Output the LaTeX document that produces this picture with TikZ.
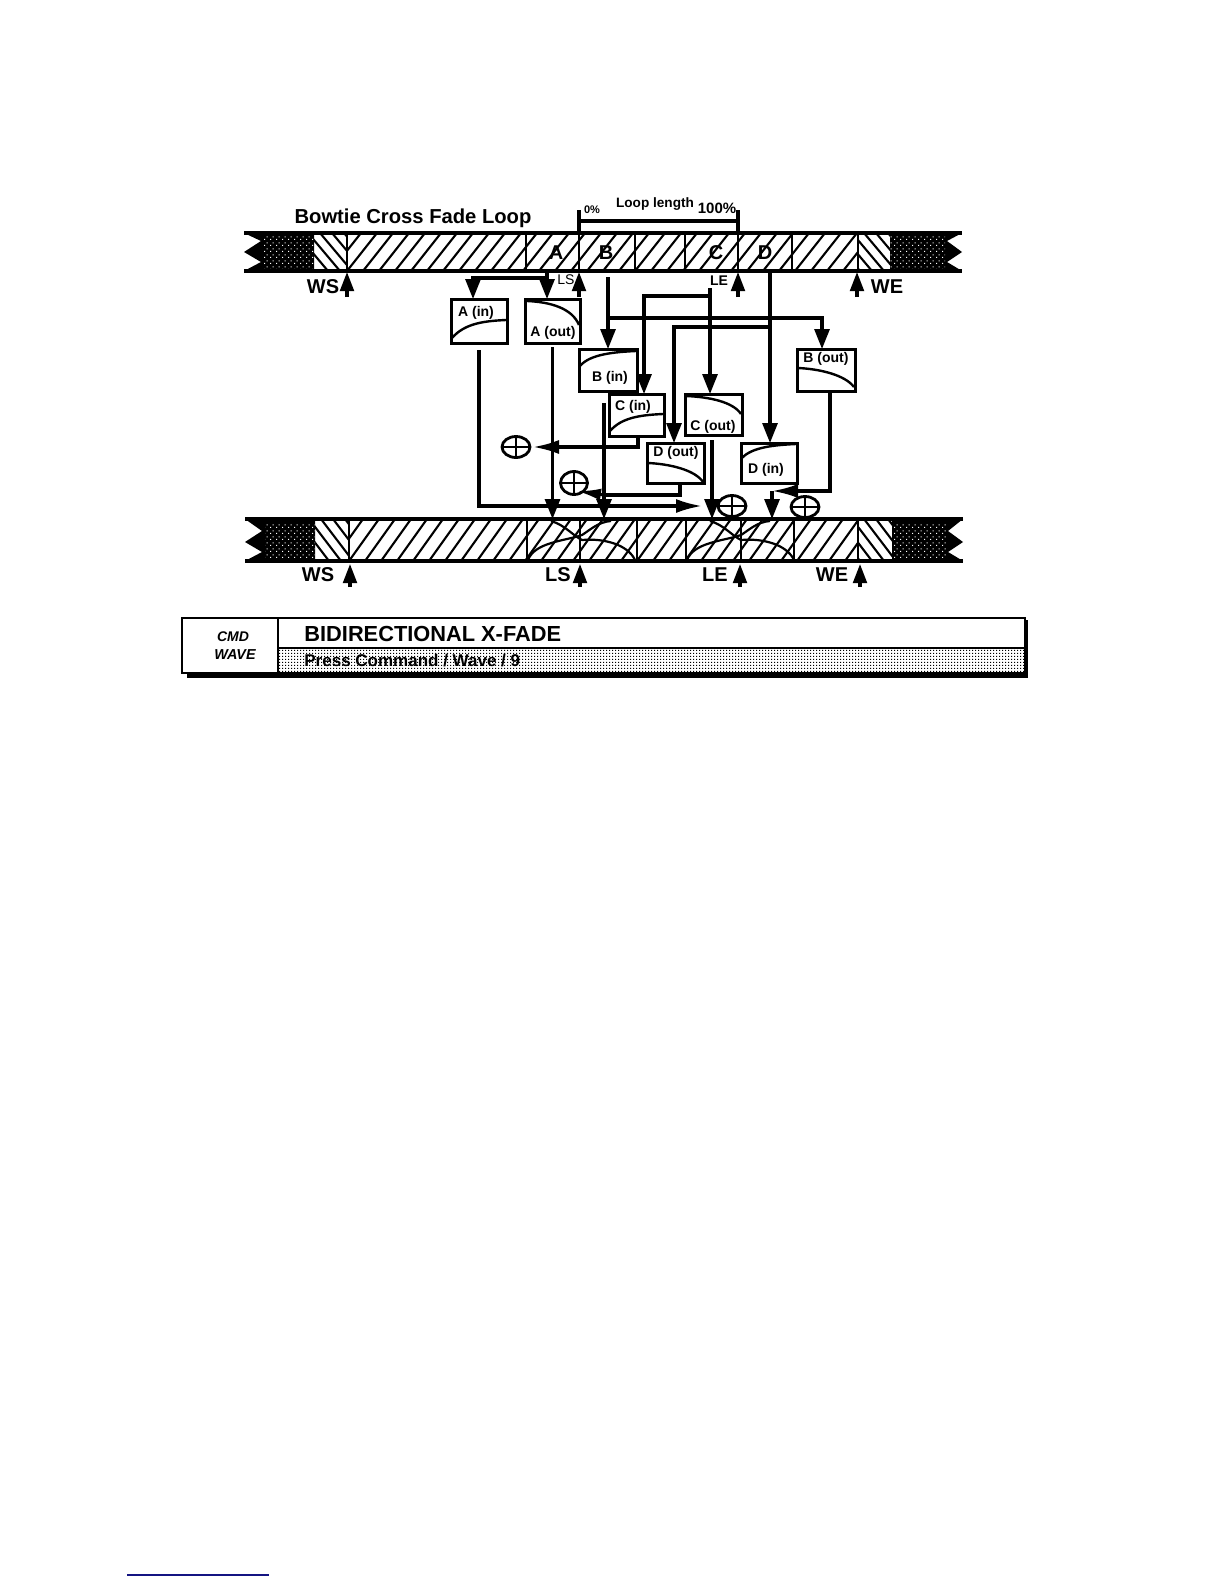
\documentclass[tikz,border=0pt]{standalone}
\usepackage{fontspec}
\setmainfont{Liberation Sans}
\usetikzlibrary{arrows.meta,calc,patterns,shapes.geometric}
\pgfdeclarepatternformonly{finedots}{\pgfpointorigin}{\pgfqpoint{1.5pt}{1.5pt}}{\pgfqpoint{1.5pt}{1.5pt}}{%
  \pgfpathrectangle{\pgfpointorigin}{\pgfqpoint{0.72pt}{0.72pt}}\pgfusepath{fill}}
\pgfdeclarepatternformonly{sparsedots}{\pgfpointorigin}{\pgfqpoint{3pt}{3pt}}{\pgfqpoint{3pt}{3pt}}{%
  \pgfpathrectangle{\pgfpointorigin}{\pgfqpoint{0.6pt}{0.6pt}}%
  \pgfpathrectangle{\pgfqpoint{1.5pt}{1.5pt}}{\pgfqpoint{0.6pt}{0.6pt}}\pgfusepath{fill}}
\tikzset{
  conn/.style={line width=1.55pt,draw=black},
  down/.style={conn,-{Triangle[length=10pt,width=7.5pt]}},
  upa/.style={conn,-{Triangle[length=9.5pt,width=6.8pt]}},
  tear/.style={conn,-{Latex[length=13pt,width=7pt]}},
  fadebox/.style={draw,line width=1.5pt,fill=white,inner sep=0pt,outer sep=0pt},
  fadecurve/.style={line width=1.2pt},
  boxlabel/.style={font=\bfseries\fontsize{7}{8}\selectfont,inner sep=0pt},
  marklabel/.style={font=\bfseries\fontsize{10}{12}\selectfont,inner sep=0pt},
  letter/.style={font=\bfseries\fontsize{10}{12}\selectfont,inner sep=0pt},
  smalllabel/.style={font=\bfseries\fontsize{5.5}{7}\selectfont,inner sep=0pt},
  summer/.style={ellipse,draw,line width=1.4pt,fill=white,inner sep=0pt,outer sep=0pt,
    minimum width=14pt,minimum height=10.5pt,
    path picture={\draw[line width=1.1pt] (path picture bounding box.north)--(path picture bounding box.south)
      (path picture bounding box.west)--(path picture bounding box.east);}},
  hatchline/.style={line width=1.05pt},
  barline/.style={line width=1pt},
  barrule/.style={line width=1.7pt}
}
% #1 top, #2 bottom, #3 left end, #4 dark end, #5 WS, #6 WE, #7 dark start, #8 right end, #9 dividers
\newcommand\wavebar[9]{%
  \begin{scope}
    \clip (#4,#1) rectangle (#5,#2);
    \foreach \d in {-12,0,...,48} {\draw[hatchline] (#4+\d-6,#1)--(#4+\d+26,#2);}
  \end{scope}
  \begin{scope}
    \clip (#6,#1) rectangle (#7,#2);
    \foreach \d in {-24,-12,...,48} {\draw[hatchline] (#6+\d-6,#1)--(#6+\d+26,#2);}
  \end{scope}
  \begin{scope}
    \clip (#5,#1) rectangle (#6,#2);
    \foreach \d in {-48,-32,...,540} {\draw[hatchline] (#5+\d,#2)--(#5+\d+30,#1);}
  \end{scope}
  \path[fill=black] (#3,#1)--(#4,#1)--(#4,#2)--(#3,#2)--(#3+17,#2-9)--(#3,#2-19)--(#3+17,#2-30)--cycle;
  \path[pattern=sparsedots,pattern color=white] (#3+20,#1+3)--(#4,#1+3)--(#4,#2-3)--(#3+20,#2-3)--cycle;
  \path[fill=black] (#8,#1)--(#7,#1)--(#7,#2)--(#8,#2)--(#8-15,#2-9)--(#8,#2-19)--(#8-15,#2-30)--cycle;
  \path[pattern=sparsedots,pattern color=white] (#8-17,#1+3)--(#7,#1+3)--(#7,#2-3)--(#8-17,#2-3)--cycle;
  \foreach \v in {#9} {\draw[barline] (\v,#1)--(\v,#2);}
  \draw[barrule] (#3,#1)--(#8,#1) (#3,#2)--(#8,#2);
}
\begin{document}
\begin{tikzpicture}[x=0.5pt,y=-0.5pt]
\useasboundingbox (0,0) rectangle (1224,1584);
\fill[white] (0,0) rectangle (1224,1584);

% wave bars
\wavebar{233}{271}{244}{314}{347}{858}{890}{962}{347,526,579,635,685,738,792,858}
\wavebar{519}{561}{245}{315}{349}{858}{892}{963}{349,527,580,637,686,741,794,858}

% fade curves in the lower bar
\draw[line width=1.1pt] (528,560) .. controls (535,542) and (565,541) .. (582,535) .. controls (590,530) and (598,522) .. (611,521);
\draw[line width=1.1pt] (551,521) .. controls (565,525) and (572,535) .. (582,540) .. controls (605,538) and (628,545) .. (635,560);
\draw[line width=1.1pt] (687,560) .. controls (694,542) and (724,541) .. (741,535) .. controls (749,530) and (757,522) .. (770,521);
\draw[line width=1.1pt] (710,521) .. controls (724,525) and (731,535) .. (741,540) .. controls (764,538) and (787,545) .. (794,560);

% bracket
\coordinate (brL) at (579,210);
\coordinate (brR) at (738,210);
\coordinate (brLb) at (579,233);
\coordinate (brRb) at (738,233);
\coordinate (brLm) at (579,221);
\coordinate (brRm) at (738,221);
\draw[conn] (brL)--(brLb) (brR)--(brRb) (brLm)--(brRm);

% texts of the upper part
\node[font=\bfseries\fontsize{10.1}{13}\selectfont,inner sep=0pt] (title) at (413,218) {Bowtie Cross Fade Loop};
\node[smalllabel] (zero) at (592,210) {0\%};
\node[font=\bfseries\fontsize{6.8}{8}\selectfont,inner sep=0pt] (looplen) at (655,204) {Loop length};
\node[font=\bfseries\fontsize{7.5}{8}\selectfont,inner sep=0pt] (hundred) at (717,208) {100\%};
\node[letter] (lA) at (556,253) {A};
\node[letter] (lB) at (606,253) {B};
\node[letter] (lC) at (716,253) {C};
\node[letter] (lD) at (765,253) {D};
\node[marklabel] (tWS) at (323,287) {WS};
\node[font=\fontsize{7}{8}\selectfont,inner sep=0pt] (tLS) at (566,280) {LS};
\node[font=\bfseries\fontsize{7}{8}\selectfont,inner sep=0pt] (tLE) at (719,281) {LE};
\node[marklabel] (tWE) at (887,287) {WE};
\node[marklabel] (bWS) at (318,575) {WS};
\node[marklabel] (bLS) at (558,575) {LS};
\node[marklabel] (bLE) at (715,575) {LE};
\node[marklabel] (bWE) at (832,575) {WE};

% marker arrows
\foreach \n/\x/\ya/\yb in {a/347/297/272, b/579/297/272, c/738/297/272, d/857/297/272, e/350/587/564, f/580/587/564, g/740/587/564, h/860/587/564} {
  \coordinate (m\n0) at (\x,\ya);
  \coordinate (m\n1) at (\x,\yb);
  \draw[upa] (m\n0)--(m\n1);
}

% fade boxes
\node[fadebox,minimum width=28pt,minimum height=22pt] (ain) at (479,321) {};
\node[fadebox,minimum width=27.5pt,minimum height=22pt] (aout) at (552.5,321) {};
\node[fadebox,minimum width=29pt,minimum height=21pt] (bin) at (608,370) {};
\node[fadebox,minimum width=29pt,minimum height=21pt] (bout) at (826,370) {};
\node[fadebox,minimum width=27.5pt,minimum height=21pt] (cin) at (636.5,415) {};
\node[fadebox,minimum width=28.5pt,minimum height=20.5pt] (cout) at (713.5,414.5) {};
\node[fadebox,minimum width=28.5pt,minimum height=20pt] (dout) at (675.5,463) {};
\node[fadebox,minimum width=28pt,minimum height=20pt] (din) at (769,463) {};

% fade curves in the boxes
\draw[fadecurve] (452,338) .. controls (465,323) and (485,321) .. (506,320);
\draw[fadecurve] (527,301) .. controls (550,302) and (572,308) .. (579,325);
\draw[fadecurve] (580,366) .. controls (590,354) and (615,352) .. (636,351);
\draw[fadecurve] (610,431) .. controls (622,417) and (642,415) .. (663,414);
\draw[fadecurve] (686,396) .. controls (710,397) and (733,402) .. (741,414);
\draw[fadecurve] (648,463) .. controls (670,464) and (695,470) .. (703,482);
\draw[fadecurve] (742,458) .. controls (752,447) and (775,445) .. (796,444);
\draw[fadecurve] (798,368) .. controls (820,369) and (845,375) .. (854,387);

\node[boxlabel] (tain) at (476,313) {A (in)};
\node[boxlabel] (taout) at (553,333) {A (out)};
\node[boxlabel] (tbin) at (610,378) {B (in)};
\node[boxlabel] (tbout) at (826,359) {B (out)};
\node[boxlabel] (tcin) at (633,407) {C (in)};
\node[boxlabel] (tcout) at (713,427) {C (out)};
\node[boxlabel] (tdout) at (676,453) {D (out)};
\node[boxlabel] (tdin) at (766,470) {D (in)};

% summing nodes
\node[summer] (s1) at (516,447) {};
\node[summer,minimum width=13.5pt,minimum height=11.5pt] (s2) at (574,483) {};
\node[summer] (s3) at (732,506) {};
\node[summer] (s4) at (805,507) {};

% named free ends
\coordinate (tapA) at (547,271);
\coordinate (tapAm) at (547,278);
\coordinate (tapB) at (608,277);
\coordinate (tapBm) at (608,318);
\coordinate (tapC) at (710,288);
\coordinate (tapCm) at (710,296);
\coordinate (tapD) at (770,271);
\coordinate (tapDm) at (770,327);
\coordinate (ainto) at (473,299);
\coordinate (aoutto) at (547,299);
\coordinate (binto) at (608,349);
\coordinate (boutto) at (822,349);
\coordinate (cinto) at (644,394);
\coordinate (coutto) at (710,394);
\coordinate (doutto) at (674,443);
\coordinate (dinto) at (770,443);
\coordinate (botA) at (553,519);
\coordinate (botB) at (604,519);
\coordinate (botC) at (712,519);
\coordinate (botD) at (772,519);
\coordinate (s2in) at (577,491);
\coordinate (s2turn) at (604,495);
\coordinate (dinjoin) at (772,491);

% feeds from the upper bar to the boxes
\draw[conn] (tapA)--(tapAm);
\draw[down] (tapAm) -| (ainto);
\draw[down] (tapAm)--(aoutto);
\draw[down] (tapB)--(binto);
\draw[down] (tapBm) -| (boutto);
\draw[down] (tapC)--(coutto);
\draw[down] (tapCm) -| (cinto);
\draw[down] (tapD)--(dinto);
\draw[down] (tapDm) -| (doutto);

% box outputs
\draw[tear,shorten <=3.5pt,shorten >=8pt] (ain.south) |- (s3.west);
\draw[down,shorten <=2pt] (aout.south) -- (aout.south |- botA);
\draw[down] ($(bin.south)+(-4,12)$) -- (botB);
\draw[down] ($(cout.south)+(-1.5,5)$) -- (botC);
\draw[tear,shorten >=1.5pt] ($(cin.south)+(1.5,0)$) |- (s1.east);
\draw[conn] ($(dout.south)+(4.5,0)$) |- (s2turn);
\draw[conn,-{Latex[length=12pt,width=6pt]}] (s2turn) -- (s2in);
\draw[tear] ($(bout.south)+(4,0)$) |- (dinjoin);
\draw[down] (dinjoin)--(botD);

% command panel
\path[pattern=finedots,pattern color=black] (279,649) rectangle (1025,672);
\coordinate (pnlA) at (278,618);
\coordinate (pnlB) at (278,673);
\draw[line width=1.4pt] (182,618) rectangle (1025,673);
\draw[line width=1.3pt] (pnlA)--(pnlB);
\draw[line width=1.2pt] (278,648)--(1025,648);
\draw[line width=2pt] (187,675.5)--(1028,675.5);
\draw[line width=2pt] (1026,620)--(1026,676);
\node[font=\bfseries\itshape\fontsize{7}{8}\selectfont,inner sep=0pt] (cmd) at (233,637) {CMD};
\node[font=\bfseries\itshape\fontsize{7.2}{8}\selectfont,inner sep=0pt] (wave) at (235,655) {WAVE};
\node[font=\bfseries\fontsize{10.9}{12}\selectfont,inner sep=0pt,anchor=west] (ptitle) at (304,634) {BIDIRECTIONAL X-FADE};
\node[font=\bfseries\fontsize{8.5}{11}\selectfont,inner sep=0pt,anchor=west] (pcmd) at (304,661) {Press Command / Wave / 9};

% footer rule
\coordinate (ftA) at (127,1575);
\coordinate (ftB) at (269,1575);
\draw[line width=0.7pt,draw={rgb,255:red,20;green,20;blue,130}] (ftA)--(ftB);
\end{tikzpicture}
\end{document}
